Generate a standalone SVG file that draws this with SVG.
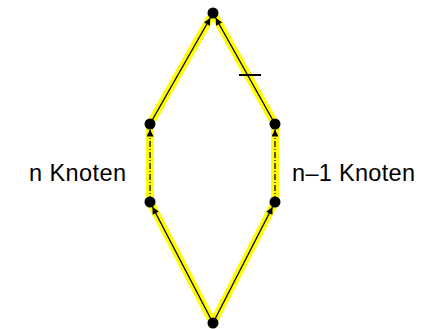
<svg xmlns="http://www.w3.org/2000/svg" width="432" height="329" viewBox="0 0 432 329">
<defs>
<marker id="ah" viewBox="0 0 10 10" refX="10" refY="5" markerWidth="9" markerHeight="7" markerUnits="userSpaceOnUse" orient="auto">
<path d="M0,0 L10,5 L0,10 z" fill="#000"/>
</marker>
<style>
.hl{stroke:#ffff00;stroke-width:8;fill:none;stroke-linecap:butt}
.ed{stroke:#000;stroke-width:1.3;fill:none;marker-end:url(#ah)}
.dd{stroke-dasharray:6 2 1 2}
.nd{fill:#000}
.lb{font-family:"Liberation Sans",Arial,sans-serif;font-size:23.5px;fill:#000}
</style>
</defs>
<rect width="432" height="329" fill="#fff"/>
<g id="connectors">
<line class="hl" x1="213" y1="323" x2="150" y2="202"/>
<line class="hl" x1="213" y1="323" x2="275" y2="202"/>
<line class="hl" x1="150" y1="202" x2="150" y2="124"/>
<line class="hl" x1="275" y1="202" x2="275" y2="124"/>
<line class="hl" x1="150" y1="124" x2="213" y2="13"/>
<line class="hl" x1="275" y1="124" x2="213" y2="13"/>
<line class="ed" x1="213" y1="323" x2="152.5" y2="207"/>
<line class="ed" x1="213" y1="323" x2="272.5" y2="207"/>
<line class="ed dd" x1="150" y1="202" x2="150" y2="129.5"/>
<line class="ed dd" x1="275" y1="202" x2="275" y2="129.5"/>
<line class="ed" x1="150" y1="124" x2="210.3" y2="18"/>
<line class="ed" x1="275" y1="124" x2="215.7" y2="18"/>
<line x1="239" y1="75" x2="261" y2="75" stroke="#000" stroke-width="2"/>
</g>
<g id="n_top"><circle class="nd" cx="213" cy="13" r="5.5"/></g>
<g id="n_lu"><circle class="nd" cx="150" cy="124" r="5.5"/></g>
<g id="n_ll"><circle class="nd" cx="150" cy="202" r="5.5"/></g>
<g id="n_ru"><circle class="nd" cx="275" cy="124" r="5.5"/></g>
<g id="n_rl"><circle class="nd" cx="275" cy="202" r="5.5"/></g>
<g id="n_bot"><circle class="nd" cx="213" cy="323" r="5.5"/></g>
<g id="labels">
<text class="lb" x="29" y="181" textLength="97">n Knoten</text>
<text class="lb" x="292" y="181" textLength="123">n–1 Knoten</text>
</g>
</svg>
